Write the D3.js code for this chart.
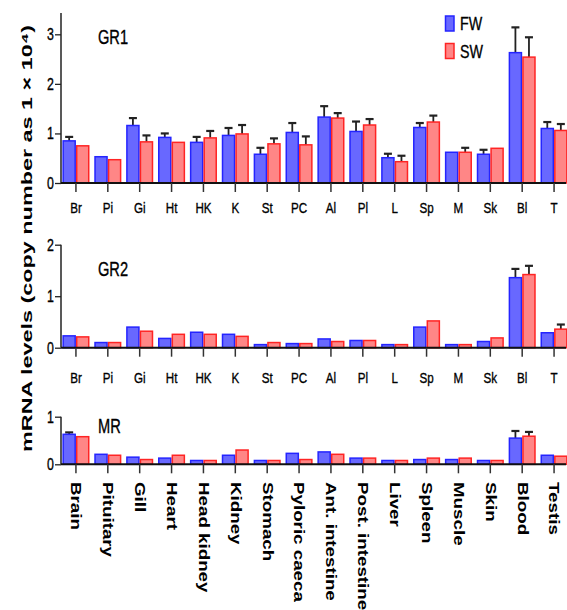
<!DOCTYPE html>
<html>
<head>
<meta charset="utf-8">
<script src="https://cdn.jsdelivr.net/npm/d3@7"></script>
<style>
  body { margin: 0; background: #fff; }
  text { font-family: "Liberation Sans", Arial, sans-serif; fill: #000; }
  text.thin { stroke: #000; stroke-width: 0.35px; }
</style>
</head>
<body>
<script>
'use strict';

let shortNames = ['Br', 'Pi', 'Gi', 'Ht', 'HK', 'K', 'St', 'PC', 'Al', 'Pl', 'L', 'Sp', 'M', 'Sk', 'Bl', 'T'];
let longNames = ['Brain', 'Pituitary', 'Gill', 'Heart', 'Head kidney', 'Kidney', 'Stomach', 'Pyloric caeca',
  'Ant. intestine', 'Post. intestine', 'Liver', 'Spleen', 'Muscle', 'Skin', 'Blood', 'Testis'];
let seriesNames = ['FW', 'SW'];

// GR1
let gr1FW = [0.85, 0.53, 1.16, 0.92, 0.82, 0.96, 0.58, 1.02, 1.33, 1.04, 0.51, 1.12, 0.62, 0.58, 2.63, 1.10];
let gr1FWerr = [0.93, null, 1.31, 1.00, 0.93, 1.11, 0.71, 1.21, 1.55, 1.24, 0.59, 1.21, null, 0.67, 3.14, 1.23];
let gr1SW = [0.75, 0.47, 0.83, 0.82, 0.91, 0.99, 0.79, 0.77, 1.31, 1.17, 0.43, 1.23, 0.62, 0.70, 2.54, 1.06];
let gr1SWerr = [null, null, 0.96, null, 1.05, 1.17, 0.90, 0.94, 1.41, 1.29, 0.55, 1.36, 0.71, null, 2.94, 1.19];

// GR2
let gr2FW = [0.23, 0.10, 0.40, 0.18, 0.30, 0.26, 0.06, 0.08, 0.17, 0.14, 0.06, 0.40, 0.06, 0.12, 1.36, 0.29];
let gr2FWerr = [null, null, null, null, null, null, null, null, null, null, null, null, null, null, 1.53, null];
let gr2SW = [0.21, 0.10, 0.32, 0.26, 0.26, 0.22, 0.10, 0.08, 0.12, 0.14, 0.06, 0.52, 0.06, 0.19, 1.42, 0.36];
let gr2SWerr = [null, null, null, null, null, null, null, null, null, null, null, null, null, null, 1.59, 0.45];

// MR
let mrFW = [0.63, 0.21, 0.15, 0.13, 0.08, 0.19, 0.08, 0.23, 0.26, 0.13, 0.08, 0.10, 0.10, 0.08, 0.55, 0.19];
let mrFWerr = [0.67, null, null, null, null, null, null, null, null, null, null, null, null, null, 0.70, null];
let mrSW = [0.58, 0.19, 0.10, 0.19, 0.08, 0.30, 0.08, 0.10, 0.21, 0.13, 0.08, 0.13, 0.13, 0.08, 0.59, 0.17];
let mrSWerr = [null, null, null, null, null, null, null, null, null, null, null, null, null, null, 0.68, null];

let gr1Ticks = [0, 1, 2, 3];
let gr2Ticks = [0, 1, 2];
let mrTicks = [0, 1];

let w = 567, h = 610;
let fill = { FW: '#6868ff', SW: '#ff8686' };
let edge = { FW: '#2424ff', SW: '#ff2424' };

let svg = d3.select('body').append('svg')
  .attr('width', w)
  .attr('height', h);

let x = d3.scaleBand()
  .domain(shortNames)
  .range([60, 570])
  .paddingInner(0.15)
  .paddingOuter(0.075);

let xs = d3.scaleBand()
  .domain(seriesNames)
  .range([0, x.bandwidth()]);

let panels = [
  { name: 'GR1', fw: gr1FW, fwErr: gr1FWerr, sw: gr1SW, swErr: gr1SWerr, ticks: gr1Ticks,
    y0: 183, top: 13, max: 3.43, labels: shortNames, labelDy: 29.5 },
  { name: 'GR2', fw: gr2FW, fwErr: gr2FWerr, sw: gr2SW, swErr: gr2SWerr, ticks: gr2Ticks,
    y0: 347.7, top: 244.7, max: 2, labels: shortNames, labelDy: 35.5 },
  { name: 'MR', fw: mrFW, fwErr: mrFWerr, sw: mrSW, swErr: mrSWerr, ticks: mrTicks,
    y0: 464.3, top: 416.7, max: 1, labels: longNames, labelDy: null }
];

panels.forEach((p) => {
  let y = d3.scaleLinear().domain([0, p.max]).range([p.y0, p.top]);
  let g = svg.append('g');

  let rows = shortNames.map((c, i) => [
    { cat: c, s: 'FW', v: p.fw[i], e: p.fwErr[i] },
    { cat: c, s: 'SW', v: p.sw[i], e: p.swErr[i] }
  ]).flat();

  // error bars behind the bars
  let errs = rows.filter((d) => d.e != null);
  let cx = (d) => x(d.cat) + xs(d.s) + xs.bandwidth() / 2;
  g.selectAll('line.err')
    .data(errs)
    .enter()
    .append('line')
    .attr('x1', cx)
    .attr('x2', cx)
    .attr('y1', (d) => y(d.v))
    .attr('y2', (d) => y(d.e))
    .attr('stroke', '#222')
    .attr('stroke-width', 1.8);
  g.selectAll('line.cap')
    .data(errs)
    .enter()
    .append('line')
    .attr('x1', (d) => cx(d) - 4)
    .attr('x2', (d) => cx(d) + 4)
    .attr('y1', (d) => y(d.e))
    .attr('y2', (d) => y(d.e))
    .attr('stroke', '#222')
    .attr('stroke-width', 2.2);

  g.selectAll('rect.bar')
    .data(rows)
    .enter()
    .append('rect')
    .attr('x', (d) => x(d.cat) + xs(d.s) + 0.75)
    .attr('y', (d) => y(d.v))
    .attr('width', xs.bandwidth() - 1.5)
    .attr('height', (d) => p.y0 - y(d.v))
    .attr('fill', (d) => fill[d.s])
    .attr('stroke', (d) => edge[d.s])
    .attr('stroke-width', 1.5);

  // y axis
  let yAxis = g.append('g')
    .attr('transform', 'translate(61,0)')
    .call(d3.axisLeft(y).tickValues(p.ticks).tickSize(6).tickFormat(''));
  yAxis.select('.domain').attr('stroke', '#222').attr('stroke-width', 1.5)
    .attr('d', 'M0,' + p.y0 + 'V' + p.top);
  yAxis.selectAll('.tick line').attr('stroke', '#222').attr('stroke-width', 1.3);

  g.selectAll('text.ytick')
    .data(p.ticks)
    .enter()
    .append('text')
    .attr('class', 'thin')
    .attr('transform', (d) => 'translate(54,' + (y(d) + 6) + ') scale(0.75,1)')
    .attr('text-anchor', 'end')
    .attr('font-size', '16.5px')
    .text((d) => d);

  // x axis
  let xAxis = g.append('g')
    .attr('transform', 'translate(0,' + p.y0 + ')')
    .call(d3.axisBottom(x).tickSize(9).tickFormat(''));
  xAxis.select('.domain').attr('stroke', '#111').attr('stroke-width', 2)
    .attr('d', 'M61,0H566');
  xAxis.selectAll('.tick line').attr('stroke', '#333').attr('stroke-width', 1.5);

  if (p.labelDy != null) {
    g.selectAll('text.xlab')
      .data(p.labels)
      .enter()
      .append('text')
      .attr('class', 'thin')
      .attr('transform', (d, i) => 'translate(' + (x(shortNames[i]) + x.bandwidth() / 2) + ',' +
        (p.y0 + p.labelDy) + ') scale(0.75,1)')
      .attr('text-anchor', 'middle')
      .attr('font-size', '15.5px')
      .text((d) => d);
  } else {
    g.selectAll('text.xlab')
      .data(p.labels)
      .enter()
      .append('text')
      .attr('transform', (d, i) => 'translate(' + (x(shortNames[i]) + x.bandwidth() / 2) + ',482) scale(1,1.34) rotate(90)')
      .attr('dominant-baseline', 'central')
      .attr('font-size', '14px')
      .attr('font-weight', 'bold')
      .text((d) => d);
  }

  // panel title
  g.append('text')
    .attr('class', 'thin')
    .attr('transform', 'translate(98,' + (p.top + (p.name === 'MR' ? 16.5 : 31)) + ') scale(0.75,1)')
    .attr('font-size', '19.5px')
    .text(p.name);
});

// legend
let legend = svg.append('g');
legend.selectAll('rect')
  .data(seriesNames)
  .enter()
  .append('rect')
  .attr('x', 445.5)
  .attr('y', (d, i) => 16 + i * 27.5)
  .attr('width', 8.5)
  .attr('height', 15)
  .attr('fill', (d) => fill[d])
  .attr('stroke', (d) => edge[d])
  .attr('stroke-width', 1.5);
legend.selectAll('text')
  .data(seriesNames)
  .enter()
  .append('text')
  .attr('class', 'thin')
  .attr('transform', (d, i) => 'translate(460,' + (30 + i * 27.5) + ') scale(0.75,1)')
  .attr('font-size', '19px')
  .text((d) => d);

// y axis title
svg.append('text')
  .attr('transform', 'translate(26,238.5) rotate(-90)')
  .attr('text-anchor', 'middle')
  .attr('dominant-baseline', 'central')
  .attr('font-size', '15.5px')
  .attr('font-weight', 'bold')
  .attr('textLength', 427)
  .attr('lengthAdjust', 'spacingAndGlyphs')
  .text('mRNA levels (copy number as 1 × 10⁴)');
</script>
</body>
</html>
